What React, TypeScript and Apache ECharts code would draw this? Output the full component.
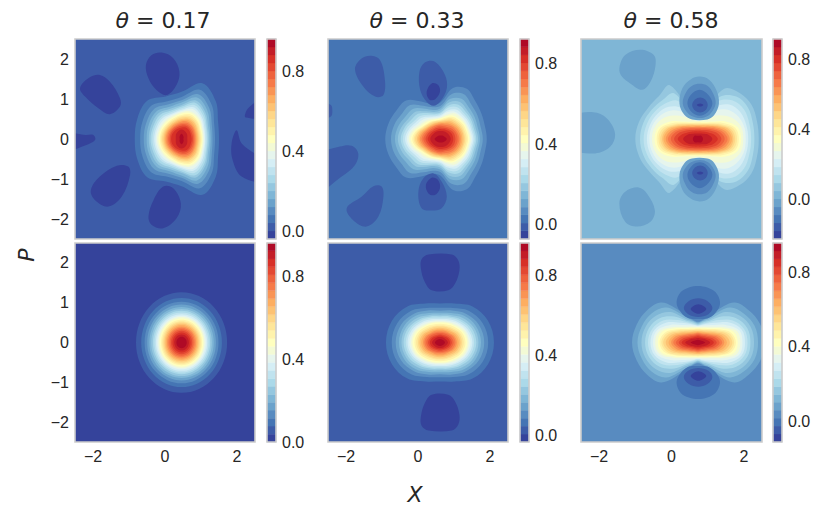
import * as echarts from 'echarts'
import { useEffect, useRef } from 'react'

// contourf bands of RdYlBu_r, lowest to highest
const BAND_COLORS = [
  '#35439b', '#3d5ca8', '#4575b4', '#588bc0', '#6ba2cb', '#7fb6d6', '#95c7df', '#abd9e9', '#c0e3ef',
  '#d5eef5', '#e6f5ed', '#f3fad5', '#ffffbf', '#fff3ac', '#fee699', '#fed687', '#fdc273', '#fdae61',
  '#f99455', '#f67a49', '#ee623d', '#e34832', '#d73027', '#c31d27', '#af0a26'
]

const X_TICKS = [-2, 0, 2]
const Y_TICKS = [-2, -1, 0, 1, 2]
const BAR_TICKS = [0, 0.4, 0.8]

const TITLES = ['0.17', '0.33', '0.58']

// level edges
const LEVELS_A = [-0.04, 0, 0.04, 0.08, 0.12, 0.16, 0.2, 0.24, 0.28, 0.32, 0.36, 0.4, 0.44, 0.48, 0.52, 0.56, 0.6, 0.64, 0.68, 0.72, 0.76, 0.8, 0.84, 0.88, 0.92, 0.96]
const LEVELS_B = [-0.07, -0.03, 0.009, 0.049, 0.088, 0.128, 0.168, 0.207, 0.247, 0.286, 0.326, 0.366, 0.405, 0.445, 0.484, 0.524, 0.564, 0.603, 0.643, 0.682, 0.722, 0.762, 0.801, 0.841, 0.881, 0.92]
const LEVELS_C = [-0.23, -0.184, -0.138, -0.092, -0.046, 0, 0.046, 0.092, 0.138, 0.184, 0.23, 0.276, 0.322, 0.368, 0.414, 0.46, 0.506, 0.552, 0.598, 0.644, 0.69, 0.736, 0.782, 0.828, 0.874, 0.92]
const LEVELS_D = [0, 0.038, 0.077, 0.115, 0.154, 0.192, 0.23, 0.269, 0.307, 0.346, 0.384, 0.422, 0.461, 0.499, 0.538, 0.576, 0.614, 0.653, 0.691, 0.73, 0.768, 0.806, 0.845, 0.883, 0.922, 0.96]
const LEVELS_E = [-0.035, 0.005, 0.045, 0.085, 0.125, 0.165, 0.205, 0.245, 0.285, 0.325, 0.365, 0.405, 0.445, 0.485, 0.525, 0.565, 0.605, 0.645, 0.685, 0.725, 0.765, 0.805, 0.845, 0.885, 0.925, 0.965]
const LEVELS_F = [-0.113, -0.07, -0.027, 0.016, 0.059, 0.102, 0.144, 0.187, 0.23, 0.273, 0.316, 0.359, 0.402, 0.445, 0.488, 0.531, 0.573, 0.616, 0.659, 0.702, 0.745, 0.788, 0.831, 0.874, 0.917, 0.96]

// contour rings: radius round the peak from 0 to 180 degrees (lower half is the mirror image)
const RINGS_A = [
  [1.04, 1.1, 1.34, 1.51, 1.18, 1.15, 1.35, 1.33, 1.3],
  [0.93, 0.98, 1.19, 1.33, 1.05, 1.02, 1.18, 1.17, 1.15],
  [0.86, 0.91, 1.09, 1.21, 0.97, 0.94, 1.07, 1.06, 1.05],
  [0.81, 0.85, 1.01, 1.12, 0.91, 0.87, 0.98, 0.98, 0.97],
  [0.77, 0.8, 0.94, 1.04, 0.85, 0.82, 0.91, 0.91, 0.91],
  [0.73, 0.76, 0.89, 0.98, 0.81, 0.77, 0.85, 0.85, 0.86],
  [0.7, 0.73, 0.84, 0.92, 0.77, 0.73, 0.79, 0.8, 0.81],
  [0.66, 0.69, 0.79, 0.86, 0.73, 0.69, 0.74, 0.75, 0.76],
  [0.64, 0.66, 0.75, 0.81, 0.7, 0.66, 0.69, 0.71, 0.72],
  [0.61, 0.63, 0.71, 0.74, 0.67, 0.63, 0.64, 0.66, 0.68],
  [0.58, 0.6, 0.67, 0.7, 0.64, 0.59, 0.6, 0.62, 0.64],
  [0.56, 0.57, 0.63, 0.66, 0.6, 0.56, 0.56, 0.59, 0.6],
  [0.53, 0.54, 0.6, 0.62, 0.57, 0.53, 0.53, 0.55, 0.57],
  [0.5, 0.51, 0.56, 0.58, 0.54, 0.5, 0.5, 0.52, 0.54],
  [0.47, 0.48, 0.53, 0.54, 0.5, 0.47, 0.47, 0.49, 0.5],
  [0.44, 0.45, 0.49, 0.51, 0.47, 0.44, 0.44, 0.46, 0.47],
  [0.41, 0.42, 0.45, 0.47, 0.44, 0.41, 0.41, 0.43, 0.44],
  [0.38, 0.39, 0.42, 0.43, 0.4, 0.38, 0.38, 0.4, 0.4],
  [0.35, 0.36, 0.38, 0.39, 0.37, 0.35, 0.35, 0.36, 0.37],
  [0.32, 0.32, 0.34, 0.35, 0.33, 0.32, 0.32, 0.33, 0.33],
  [0.28, 0.28, 0.3, 0.31, 0.29, 0.28, 0.28, 0.29, 0.29],
  [0.16, 0.2, 0.24, 0.2, 0.16],
  [0.05, 0.08, 0.13, 0.08, 0.05]
]
const RINGS_B = [
  [1.28, 1.27, 1.3, 1.35, 1.45, 1.32, 0.92, 0.9, 1.08, 1.36, 1.42, 1.5, 1.54],
  [1.17, 1.15, 1.18, 1.21, 1.29, 1.16, 0.83, 0.82, 0.96, 1.2, 1.25, 1.34, 1.38],
  [1.09, 1.07, 1.09, 1.11, 1.16, 1.04, 0.77, 0.75, 0.87, 1.07, 1.13, 1.22, 1.27],
  [1.04, 1.01, 1.02, 1.03, 1.07, 0.95, 0.72, 0.7, 0.8, 0.97, 1.03, 1.13, 1.19],
  [0.99, 0.96, 0.97, 0.97, 0.99, 0.87, 0.67, 0.66, 0.75, 0.89, 0.95, 1.05, 1.11],
  [0.95, 0.92, 0.92, 0.91, 0.92, 0.81, 0.64, 0.63, 0.7, 0.81, 0.87, 0.99, 1.05],
  [0.91, 0.88, 0.88, 0.86, 0.85, 0.74, 0.6, 0.59, 0.65, 0.75, 0.81, 0.92, 0.99],
  [0.87, 0.84, 0.83, 0.81, 0.79, 0.69, 0.57, 0.56, 0.61, 0.69, 0.75, 0.87, 0.94],
  [0.83, 0.81, 0.79, 0.77, 0.74, 0.63, 0.54, 0.53, 0.57, 0.63, 0.69, 0.81, 0.89],
  [0.8, 0.77, 0.76, 0.72, 0.68, 0.59, 0.52, 0.51, 0.54, 0.58, 0.64, 0.76, 0.84],
  [0.76, 0.74, 0.72, 0.68, 0.64, 0.55, 0.49, 0.48, 0.51, 0.54, 0.6, 0.72, 0.79],
  [0.72, 0.7, 0.68, 0.64, 0.6, 0.52, 0.47, 0.47, 0.49, 0.52, 0.58, 0.68, 0.75],
  [0.68, 0.66, 0.64, 0.6, 0.56, 0.49, 0.45, 0.45, 0.47, 0.5, 0.55, 0.65, 0.71],
  [0.64, 0.63, 0.6, 0.56, 0.52, 0.46, 0.43, 0.43, 0.44, 0.47, 0.52, 0.61, 0.66],
  [0.6, 0.59, 0.56, 0.52, 0.48, 0.43, 0.41, 0.41, 0.42, 0.44, 0.49, 0.57, 0.62],
  [0.56, 0.55, 0.52, 0.48, 0.44, 0.4, 0.39, 0.38, 0.39, 0.42, 0.46, 0.53, 0.58],
  [0.52, 0.5, 0.47, 0.44, 0.4, 0.37, 0.36, 0.36, 0.37, 0.39, 0.43, 0.49, 0.53],
  [0.47, 0.46, 0.43, 0.39, 0.35, 0.33, 0.33, 0.33, 0.33, 0.35, 0.39, 0.44, 0.48],
  [0.41, 0.4, 0.38, 0.34, 0.31, 0.29, 0.29, 0.29, 0.3, 0.31, 0.35, 0.39, 0.42],
  [0.35, 0.34, 0.32, 0.29, 0.27, 0.25, 0.25, 0.25, 0.25, 0.27, 0.3, 0.33, 0.36],
  [0.28, 0.23, 0.2, 0.23, 0.29],
  [0.17, 0.11, 0.09, 0.11, 0.17]
]
const RINGS_C = [
  [1.68, 1.69, 1.71, 1.63, 1.45, 0.68, 0.55, 0.66, 1.55, 1.52, 1.58, 1.68, 1.73],
  [1.56, 1.57, 1.59, 1.5, 1.22, 0.64, 0.53, 0.62, 1.32, 1.38, 1.47, 1.56, 1.6],
  [1.47, 1.47, 1.47, 1.36, 1.08, 0.6, 0.51, 0.59, 1.1, 1.26, 1.37, 1.46, 1.5],
  [1.39, 1.38, 1.35, 1.22, 0.92, 0.57, 0.49, 0.56, 0.9, 1.14, 1.28, 1.37, 1.41],
  [1.32, 1.31, 1.22, 1.05, 0.78, 0.54, 0.47, 0.53, 0.76, 1.01, 1.19, 1.3, 1.34],
  [1.25, 1.23, 1.07, 0.84, 0.63, 0.5, 0.45, 0.5, 0.62, 0.83, 1.07, 1.22, 1.27],
  [1.19, 1.14, 0.88, 0.62, 0.5, 0.45, 0.43, 0.45, 0.5, 0.62, 0.88, 1.13, 1.2],
  [1.13, 1.07, 0.8, 0.58, 0.47, 0.42, 0.41, 0.42, 0.47, 0.58, 0.8, 1.07, 1.14],
  [1.08, 1.01, 0.74, 0.55, 0.45, 0.4, 0.39, 0.4, 0.45, 0.55, 0.74, 1.01, 1.09],
  [1.03, 0.95, 0.7, 0.52, 0.43, 0.38, 0.37, 0.38, 0.43, 0.52, 0.7, 0.95, 1.04],
  [0.98, 0.9, 0.66, 0.49, 0.4, 0.36, 0.35, 0.36, 0.4, 0.49, 0.66, 0.9, 0.99],
  [0.94, 0.84, 0.62, 0.46, 0.38, 0.34, 0.33, 0.34, 0.38, 0.46, 0.62, 0.84, 0.95],
  [0.88, 0.78, 0.58, 0.43, 0.35, 0.32, 0.31, 0.32, 0.35, 0.43, 0.58, 0.78, 0.89],
  [0.82, 0.71, 0.53, 0.4, 0.33, 0.3, 0.29, 0.3, 0.33, 0.4, 0.53, 0.71, 0.83],
  [0.74, 0.64, 0.47, 0.36, 0.3, 0.27, 0.26, 0.27, 0.3, 0.36, 0.47, 0.64, 0.75],
  [0.65, 0.56, 0.41, 0.32, 0.26, 0.24, 0.23, 0.24, 0.26, 0.32, 0.41, 0.56, 0.66],
  [0.55, 0.45, 0.33, 0.26, 0.22, 0.2, 0.19, 0.2, 0.22, 0.26, 0.33, 0.45, 0.56],
  [0.4, 0.3, 0.19, 0.15, 0.14, 0.15, 0.19, 0.3, 0.41],
  [0.14, 0.12, 0.08, 0.12, 0.14]
]
// this panel is a plain disc, one radius per ring
const RINGS_D = [
  [1.265], [1.12], [1.026], [0.954], [0.894], [0.842], [0.795], [0.752], [0.712], [0.675], [0.639], [0.604],
  [0.57], [0.537], [0.504], [0.471], [0.438], [0.404], [0.369], [0.333], [0.294], [0.252], [0.203], [0.143]
]
const RINGS_E = [
  [1.5, 1.44, 1.28, 1.06, 0.98, 1.06, 1.28, 1.44, 1.5],
  [1.34, 1.28, 1.13, 0.94, 0.87, 0.94, 1.13, 1.28, 1.34],
  [1.23, 1.17, 1.02, 0.87, 0.8, 0.87, 1.02, 1.17, 1.23],
  [1.14, 1.08, 0.95, 0.8, 0.75, 0.8, 0.95, 1.08, 1.14],
  [1.07, 1.01, 0.88, 0.75, 0.7, 0.75, 0.88, 1.01, 1.07],
  [1.01, 0.95, 0.82, 0.71, 0.66, 0.71, 0.82, 0.95, 1.01],
  [0.95, 0.89, 0.77, 0.67, 0.63, 0.67, 0.77, 0.89, 0.95],
  [0.9, 0.84, 0.72, 0.63, 0.59, 0.63, 0.72, 0.84, 0.9],
  [0.85, 0.79, 0.68, 0.59, 0.56, 0.59, 0.68, 0.79, 0.85],
  [0.8, 0.75, 0.63, 0.56, 0.53, 0.56, 0.63, 0.75, 0.8],
  [0.76, 0.7, 0.59, 0.53, 0.505, 0.53, 0.59, 0.7, 0.76],
  [0.71, 0.66, 0.56, 0.49, 0.47, 0.49, 0.56, 0.66, 0.71],
  [0.66, 0.61, 0.51, 0.45, 0.43, 0.45, 0.51, 0.61, 0.66],
  [0.61, 0.57, 0.47, 0.42, 0.4, 0.42, 0.47, 0.57, 0.61],
  [0.57, 0.52, 0.43, 0.38, 0.37, 0.38, 0.43, 0.52, 0.57],
  [0.52, 0.48, 0.39, 0.35, 0.335, 0.35, 0.39, 0.48, 0.52],
  [0.47, 0.43, 0.35, 0.32, 0.3, 0.32, 0.35, 0.43, 0.47],
  [0.43, 0.39, 0.32, 0.28, 0.27, 0.28, 0.32, 0.39, 0.43],
  [0.38, 0.34, 0.28, 0.25, 0.24, 0.25, 0.28, 0.34, 0.38],
  [0.33, 0.29, 0.24, 0.21, 0.21, 0.21, 0.24, 0.29, 0.33],
  [0.28, 0.25, 0.2, 0.18, 0.175, 0.18, 0.2, 0.25, 0.28],
  [0.22, 0.16, 0.14, 0.16, 0.22],
  [0.14, 0.1, 0.09, 0.1, 0.14]
]
const RINGS_F = [
  [1.85, 1.78, 1.62, 1.42, 0.88, 0.6, 0.52, 0.6, 0.88, 1.42, 1.62, 1.75, 1.82],
  [1.66, 1.62, 1.46, 1.24, 0.78, 0.57, 0.5, 0.57, 0.78, 1.24, 1.47, 1.6, 1.67],
  [1.55, 1.51, 1.34, 1.08, 0.69, 0.55, 0.48, 0.55, 0.69, 1.08, 1.34, 1.5, 1.56],
  [1.45, 1.41, 1.22, 0.92, 0.63, 0.52, 0.46, 0.52, 0.63, 0.92, 1.22, 1.4, 1.46],
  [1.37, 1.32, 1.11, 0.8, 0.59, 0.49, 0.44, 0.49, 0.59, 0.8, 1.11, 1.31, 1.38],
  [1.3, 1.25, 1.0, 0.7, 0.55, 0.46, 0.42, 0.46, 0.55, 0.7, 1.0, 1.24, 1.31],
  [1.23, 1.18, 0.88, 0.62, 0.5, 0.44, 0.41, 0.44, 0.5, 0.62, 0.88, 1.17, 1.24],
  [1.17, 1.11, 0.78, 0.56, 0.46, 0.41, 0.39, 0.41, 0.46, 0.56, 0.78, 1.1, 1.18],
  [1.1, 1.03, 0.71, 0.51, 0.43, 0.38, 0.37, 0.38, 0.43, 0.51, 0.71, 1.03, 1.11],
  [1.05, 0.95, 0.66, 0.48, 0.4, 0.36, 0.35, 0.36, 0.4, 0.48, 0.66, 0.95, 1.06],
  [1.0, 0.89, 0.62, 0.45, 0.37, 0.34, 0.33, 0.34, 0.37, 0.45, 0.62, 0.89, 1.01],
  [0.95, 0.83, 0.57, 0.42, 0.35, 0.32, 0.31, 0.32, 0.35, 0.42, 0.57, 0.83, 0.96],
  [0.88, 0.76, 0.52, 0.38, 0.32, 0.3, 0.29, 0.3, 0.32, 0.38, 0.52, 0.76, 0.89],
  [0.8, 0.69, 0.47, 0.35, 0.3, 0.27, 0.27, 0.27, 0.3, 0.35, 0.47, 0.69, 0.81],
  [0.73, 0.62, 0.42, 0.32, 0.27, 0.25, 0.25, 0.25, 0.27, 0.32, 0.42, 0.62, 0.74],
  [0.67, 0.55, 0.38, 0.29, 0.25, 0.23, 0.23, 0.23, 0.25, 0.29, 0.38, 0.55, 0.68],
  [0.6, 0.49, 0.33, 0.26, 0.22, 0.21, 0.21, 0.21, 0.22, 0.26, 0.33, 0.49, 0.61],
  [0.52, 0.42, 0.28, 0.22, 0.19, 0.18, 0.18, 0.18, 0.19, 0.22, 0.28, 0.42, 0.53],
  [0.44, 0.34, 0.23, 0.18, 0.16, 0.15, 0.15, 0.15, 0.16, 0.18, 0.23, 0.34, 0.45],
  [0.34, 0.22, 0.14, 0.115, 0.11, 0.115, 0.14, 0.22, 0.35],
  [0.2, 0.08, 0.07, 0.08, 0.2]
]

// side lobes as [x, p] outlines: [band, mirrored in p?, outline]
type Lobe = [number, boolean, number[][]]
const LOBES_A: Lobe[] = [
  [0, false, [[-0.53, 1.85], [-0.37, 2.1], [-0.09, 2.16], [0.23, 2.02], [0.4, 1.68], [0.32, 1.35], [0.05, 1.1], [-0.23, 1.22], [-0.46, 1.52]]],
  [0, false, [[-2.36, 1.27], [-2.13, 1.52], [-1.81, 1.6], [-1.53, 1.43], [-1.25, 1.02], [-1.25, 0.81], [-1.53, 0.62], [-1.85, 0.77], [-2.22, 1.06]]],
  [0, false, [[-2.06, -1.28], [-1.81, -0.94], [-1.34, -0.67], [-1.02, -0.69], [-0.97, -0.9], [-1.2, -1.44], [-1.57, -1.69], [-1.94, -1.53]]],
  [0, false, [[-0.46, -1.94], [-0.32, -1.53], [-0.05, -1.19], [0.23, -1.23], [0.44, -1.61], [0.32, -1.98], [-0.05, -2.23], [-0.37, -2.15]]],
  [0, false, [[-2.7, 0.12], [-2.2, 0.1], [-1.99, 0.1], [-1.94, -0.02], [-2.13, -0.13], [-2.7, -0.26]]],
  [0, false, [[2.7, 1.0], [2.31, 0.77], [2.22, 0.6], [2.24, 0.54], [2.7, 0.54]]],
  [0, false, [[1.99, 0.22], [2.13, -0.11], [2.7, -0.55], [2.7, -1.05], [2.13, -0.94], [1.88, -0.53], [1.85, -0.11]]]
]
const LOBES_B: Lobe[] = [
  [1, false, [[-1.75, 1.73], [-1.61, 1.98], [-1.33, 2.08], [-1.06, 1.98], [-0.92, 1.48], [-0.96, 1.1], [-1.19, 1.06], [-1.52, 1.31]]],
  [1, false, [[-1.98, -1.73], [-1.56, -1.44], [-1.24, -1.18], [-1.01, -1.19], [-0.96, -1.44], [-1.1, -1.94], [-1.43, -2.19], [-1.8, -2.03]]],
  [1, false, [[-2.7, -0.4], [-2.17, -0.19], [-1.84, -0.17], [-1.66, -0.36], [-1.75, -0.65], [-2.12, -0.94], [-2.7, -1.26]]],
  [1, false, [[-2.7, 0.9], [-2.42, 0.85], [-2.38, 0.7], [-2.42, 0.56], [-2.7, 0.5]]],
  [1, false, [[0.04, 1.68], [0.19, 1.91], [0.47, 1.93], [0.75, 1.6], [0.8, 1.27], [0.61, 0.93], [0.43, 0.83], [0.24, 0.93], [0.06, 1.23]]],
  [0, false, [[0.24, 1.18], [0.38, 1.39], [0.56, 1.35], [0.61, 1.18], [0.47, 0.99], [0.31, 0.99]]],
  [1, false, [[0.01, -1.32], [0.15, -0.98], [0.43, -0.86], [0.66, -1.07], [0.8, -1.44], [0.66, -1.73], [0.38, -1.79], [0.1, -1.73]]],
  [0, false, [[0.22, -1.15], [0.38, -0.97], [0.56, -1.03], [0.61, -1.23], [0.47, -1.4], [0.29, -1.36]]]
]
const LOBES_C: Lobe[] = [
  [4, false, [[-1.44, 1.77], [-1.28, 2.1], [-0.86, 2.23], [-0.49, 2.1], [-0.44, 1.85], [-0.58, 1.43], [-0.81, 1.23], [-1.14, 1.39], [-1.37, 1.56]]],
  [4, false, [[-1.44, -1.61], [-1.28, -1.32], [-0.91, -1.21], [-0.68, -1.36], [-0.46, -1.78], [-0.58, -2.07], [-0.95, -2.19], [-1.28, -2.07]]],
  [4, false, [[-2.7, 0.55], [-2.16, 0.67], [-1.79, 0.52], [-1.56, 0.14], [-1.69, -0.19], [-2.11, -0.36], [-2.7, -0.24]]],
  [4, true, [[0.22, 0.89], [0.3, 1.27], [0.53, 1.49], [0.78, 1.56], [1.04, 1.48], [1.24, 1.22], [1.31, 0.89], [1.18, 0.6], [0.99, 0.49], [0.57, 0.49], [0.36, 0.6]]],
  [3, true, [[0.31, 0.89], [0.41, 1.18], [0.57, 1.33], [0.78, 1.38], [0.99, 1.33], [1.15, 1.14], [1.22, 0.89], [1.08, 0.64], [0.9, 0.54], [0.67, 0.54], [0.46, 0.64]]],
  [2, true, [[0.44, 0.88], [0.53, 1.1], [0.78, 1.23], [1.02, 1.1], [1.13, 0.88], [0.99, 0.66], [0.78, 0.58], [0.57, 0.66]]],
  [1, true, [[0.57, 0.85], [0.65, 0.99], [0.79, 1.04], [0.93, 0.99], [1.0, 0.85], [0.93, 0.71], [0.79, 0.66], [0.65, 0.71]]],
  [0, true, [[0.7, 0.85], [0.79, 0.89], [0.88, 0.85], [0.79, 0.81]]]
]
const LOBES_D: Lobe[] = []
const LOBES_E: Lobe[] = [
  [0, true, [[0.08, 1.86], [0.1, 2.09], [0.29, 2.21], [0.94, 2.21], [1.12, 2.06], [1.15, 1.81], [1.03, 1.48], [0.84, 1.31], [0.38, 1.31], [0.19, 1.52]]]
]
const LOBES_F: Lobe[] = [
  [2, true, [[0.14, 1.02], [0.25, 1.26], [0.48, 1.38], [0.74, 1.42], [0.99, 1.38], [1.22, 1.26], [1.34, 1.02], [1.27, 0.81], [1.04, 0.62], [0.74, 0.59], [0.44, 0.62], [0.22, 0.81]]],
  [1, true, [[0.34, 0.87], [0.48, 1.04], [0.74, 1.11], [0.99, 1.04], [1.13, 0.87], [1.02, 0.71], [0.74, 0.64], [0.46, 0.71]]],
  [0, true, [[0.53, 0.84], [0.74, 0.96], [0.96, 0.84], [0.74, 0.72]]]
]

const PANELS = [
  { peak: [0.46, 0], back: 1, firstRing: 2, rings: RINGS_A, lobes: LOBES_A, levels: LEVELS_A },
  { peak: [0.63, 0], back: 2, firstRing: 3, rings: RINGS_B, lobes: LOBES_B, levels: LEVELS_B },
  { peak: [0.73, 0], back: 5, firstRing: 6, rings: RINGS_C, lobes: LOBES_C, levels: LEVELS_C },
  { peak: [0.46, 0], back: 0, firstRing: 1, rings: RINGS_D, lobes: LOBES_D, levels: LEVELS_D },
  { peak: [0.61, 0], back: 1, firstRing: 2, rings: RINGS_E, lobes: LOBES_E, levels: LEVELS_E },
  { peak: [0.73, 0], back: 3, firstRing: 4, rings: RINGS_F, lobes: LOBES_F, levels: LEVELS_F }
]

const COL_LEFT = [75, 328, 581]
const COL_WIDTH = [180, 180, 181]
const BAR_LEFT = [267, 520, 773]
const ROW_TOP = [39, 243]
const ROW_HEIGHT = [200, 199]
const TITLE_CENTER = [158, 412, 666]

const TICK_FONT = { fontFamily: 'Liberation Sans', fontSize: 16, color: '#262626' }
const FRAME = '#cccccc'

function ringOutline(peak: number[], radii: number[]) {
  const rs = radii.length === 1 ? new Array(9).fill(radii[0]) : radii
  const n = rs.length
  const pts: number[][] = []
  for (let i = 0; i < n; i++) {
    const a = (Math.PI * i) / (n - 1)
    pts.push([peak[0] + rs[i] * Math.cos(a), peak[1] + rs[i] * Math.sin(a)])
  }
  for (let i = n - 2; i > 0; i--) {
    const a = (Math.PI * i) / (n - 1)
    pts.push([peak[0] + rs[i] * Math.cos(a), peak[1] - rs[i] * Math.sin(a)])
  }
  return pts
}

function buildShapes(panel: (typeof PANELS)[number]) {
  const shapes: { band: number; pts: number[][] }[] = []
  panel.rings.forEach((radii, i) => {
    shapes.push({ band: panel.firstRing + i, pts: ringOutline(panel.peak, radii) })
  })
  panel.lobes.forEach(([band, mirrored, pts]) => {
    shapes.push({ band, pts })
    if (mirrored) shapes.push({ band, pts: pts.map(([x, p]) => [x, -p]) })
  })
  return shapes
}

function frameSeries(index: number) {
  return {
    type: 'custom',
    xAxisIndex: index,
    yAxisIndex: index,
    silent: true,
    z: 5,
    clip: false,
    data: [[0, 0]],
    renderItem: (params: any) => ({
      type: 'rect',
      shape: { x: params.coordSys.x, y: params.coordSys.y, width: params.coordSys.width, height: params.coordSys.height },
      style: { fill: 'none', stroke: FRAME, lineWidth: 1.6 }
    })
  }
}

function buildOption() {
  const grid: any[] = []
  const xAxis: any[] = []
  const yAxis: any[] = []
  const series: any[] = []
  const title: any[] = []

  PANELS.forEach((panel, p) => {
    const col = p % 3
    const row = p < 3 ? 0 : 1
    const shapes = buildShapes(panel)
    const main = grid.length

    grid.push({
      show: true,
      left: COL_LEFT[col],
      top: ROW_TOP[row],
      width: COL_WIDTH[col],
      height: ROW_HEIGHT[row],
      backgroundColor: BAND_COLORS[panel.back],
      borderWidth: 0
    })
    xAxis.push({
      gridIndex: main,
      type: 'value',
      min: -2.5,
      max: 2.5,
      splitLine: { show: false },
      axisLine: { show: false },
      axisTick: { show: false },
      axisLabel: {
        show: row === 1,
        customValues: X_TICKS,
        margin: 6,
        formatter: (v: number) => String(v).replace('-', '\u2212'),
        ...TICK_FONT
      }
    })
    yAxis.push({
      gridIndex: main,
      type: 'value',
      min: -2.5,
      max: 2.5,
      splitLine: { show: false },
      axisLine: { show: false },
      axisTick: { show: false },
      axisLabel: {
        show: col === 0,
        customValues: Y_TICKS,
        margin: 6,
        formatter: (v: number) => String(v).replace('-', '\u2212'),
        ...TICK_FONT
      }
    })
    series.push({
      type: 'custom',
      xAxisIndex: main,
      yAxisIndex: main,
      silent: true,
      clip: true,
      data: shapes.map(s => s.pts[0]),
      encode: { x: 0, y: 1 },
      renderItem: (params: any, api: any) => {
        const s = shapes[params.dataIndex]
        return {
          type: 'polygon',
          shape: { points: s.pts.map(pt => api.coord(pt)), smooth: 0.36 },
          style: { fill: BAND_COLORS[s.band] }
        }
      }
    })
    series.push(frameSeries(main))

    // colorbar
    const bar = grid.length
    const levels = panel.levels
    grid.push({
      left: BAR_LEFT[col],
      top: ROW_TOP[row],
      width: 9,
      height: ROW_HEIGHT[row]
    })
    xAxis.push({ gridIndex: bar, type: 'value', min: 0, max: 1, show: false })
    yAxis.push({
      gridIndex: bar,
      type: 'value',
      position: 'right',
      min: levels[0],
      max: levels[levels.length - 1],
      splitLine: { show: false },
      axisLine: { show: false },
      axisTick: { show: false },
      axisLabel: {
        customValues: BAR_TICKS,
        margin: 6,
        formatter: (v: number) => v.toFixed(1),
        ...TICK_FONT
      }
    })
    series.push({
      type: 'custom',
      xAxisIndex: bar,
      yAxisIndex: bar,
      silent: true,
      data: levels.slice(0, -1).map((lo, i) => [0, lo, 1, levels[i + 1]]),
      encode: { x: [0, 2], y: [1, 3] },
      renderItem: (params: any, api: any) => {
        const a = api.coord([api.value(0), api.value(3)])
        const b = api.coord([api.value(2), api.value(1)])
        const color = BAND_COLORS[params.dataIndex]
        return {
          type: 'rect',
          shape: { x: a[0], y: a[1], width: b[0] - a[0], height: b[1] - a[1] },
          style: { fill: color, stroke: color, lineWidth: 0.3 }
        }
      }
    })
    series.push(frameSeries(bar))
  })

  TITLES.forEach((t, i) => {
    title.push({
      text: `{i|θ}{n| = ${t}}`,
      left: TITLE_CENTER[i],
      top: 4,
      textAlign: 'center',
      textStyle: {
        fontWeight: 'normal',
        rich: {
          i: { fontFamily: 'DejaVu Sans', fontStyle: 'italic', fontWeight: 'normal', fontSize: 22, color: '#262626' },
          n: { fontFamily: 'DejaVu Sans', fontWeight: 'normal', fontSize: 22, color: '#262626' }
        }
      }
    })
  })

  return {
    animation: false,
    backgroundColor: '#ffffff',
    title,
    grid,
    xAxis,
    yAxis,
    series,
    graphic: [
      {
        type: 'text',
        x: 26,
        y: 255,
        rotation: Math.PI / 2,
        style: {
          text: 'P',
          fontFamily: 'DejaVu Sans',
          fontStyle: 'italic',
          fontSize: 22,
          fill: '#262626',
          align: 'center',
          verticalAlign: 'middle'
        }
      },
      {
        type: 'text',
        x: 415,
        y: 494,
        style: {
          text: 'X',
          fontFamily: 'DejaVu Sans',
          fontStyle: 'italic',
          fontSize: 22,
          fill: '#262626',
          align: 'center',
          verticalAlign: 'middle'
        }
      }
    ]
  }
}

export default function App() {
  const chartRef = useRef<HTMLDivElement>(null)

  useEffect(() => {
    if (!chartRef.current) return
    const chart = echarts.init(chartRef.current, null, { renderer: 'svg' })
    chart.setOption(buildOption())
    return () => chart.dispose()
  }, [])

  return <div ref={chartRef} style={{ position: 'fixed', left: 0, top: 0, width: 830, height: 513 }} />
}
